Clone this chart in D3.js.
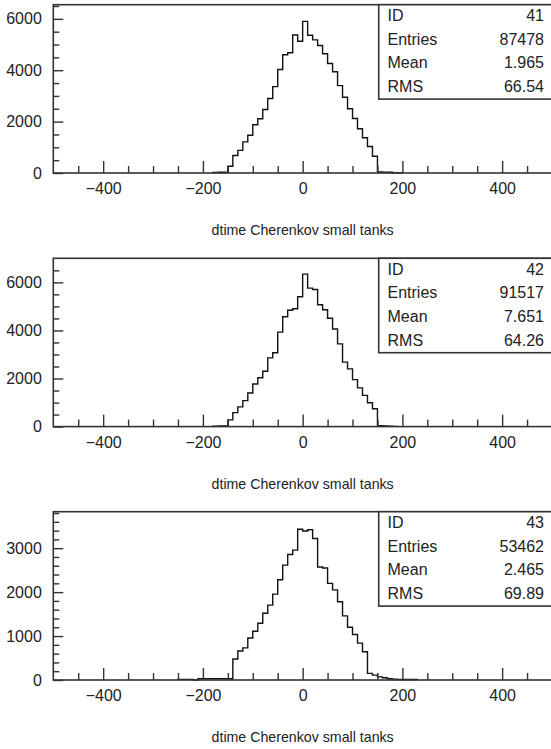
<!DOCTYPE html>
<html>
<head>
<meta charset="utf-8">
<script src="https://d3js.org/d3.v7.min.js"></script>
<style>
  body { margin: 0; background: #fff; }
  svg { display: block; font-family: "Liberation Sans", Arial, sans-serif; }
</style>
</head>
<body>
<svg id="drawing"></svg>
<script>
// values (bin width 10)
const binWidth = 10;
const xTitle = "dtime Cherenkov small tanks";
const statLabels = ["ID", "Entries", "Mean", "RMS"];

const ids = ["41", "42", "43"];
const entries = ["87478", "91517", "53462"];
const means = ["1.965", "7.651", "2.465"];
const rmsValues = ["66.54", "64.26", "69.89"];

const firstBin41 = -180;
const counts41 = [25, 30, 35, 265, 680, 880, 1210, 1470, 1880, 2110, 2470, 2900, 3360, 4030,
  4600, 4680, 5370, 5130, 5900, 5360, 5180, 4960, 4640, 4264, 3939, 3400, 2950, 2500, 2120,
  1720, 1370, 1030, 650, 40, 35, 30, 10, 10];

const firstBin42 = -180;
const counts42 = [20, 25, 30, 280, 580, 820, 1080, 1400, 1770, 2030, 2300, 2860, 3070, 3930,
  4570, 4840, 4900, 5400, 6340, 5760, 5700, 5070, 4860, 4509, 4060, 3440, 2680, 2400, 1955,
  1610, 1300, 990, 740, 40, 30, 20, 10];

const firstBin43 = -250;
const counts43 = [15, 15, 15, 0, 30, 30, 30, 30, 30, 30, 30, 477, 660, 730, 955, 1110, 1290,
  1520, 1705, 1955, 2280, 2614, 2856, 2955, 3430, 3390, 3420, 3220, 2570, 2550, 2200, 2050,
  1780, 1460, 1200, 1035, 840, 644, 150, 110, 70, 50, 30, 20, 10, 10, 10, 10];

const yMaxes = [6550, 7000, 3830];
const yLabelSteps = [2000, 2000, 1000];
const yMinorSteps = [500, 500, 200];
const xLabelTicks = [-400, -200, 0, 200, 400];

class Histo {

    constructor(config, counts, firstBin) {
        this.config = {
            parent: config.parent,
            top: config.top,
            height: config.height || 168.3,
            left: 53.3,
            right: 552,
            ymax: config.ymax,
            ystep: config.ystep,
            yminor: config.yminor,
            stats: config.stats
        };
        this.data = counts.map((c, i) => ({ lo: firstBin + i * binWidth, count: c }));
        this.init();
    }

    init() {
        let self = this;
        let c = self.config;

        self.chart = c.parent.append('g')
            .attr('transform', `translate(0, ${c.top})`);

        self.xscale = d3.scaleLinear()
            .domain([-500, 500])
            .range([c.left, c.right]);

        self.yscale = d3.scaleLinear()
            .domain([0, c.ymax])
            .range([c.height, 0]);
    }

    render() {
        let self = this;
        let c = self.config;

        // histogram outline
        let pts = [[self.data[0].lo, 0]];
        self.data.forEach(d => {
            pts.push([d.lo, d.count]);
            pts.push([d.lo + binWidth, d.count]);
        });
        pts.push([self.data[self.data.length - 1].lo + binWidth, 0]);

        let line = d3.line()
            .x(p => self.xscale(p[0]))
            .y(p => self.yscale(p[1]));

        self.chart.append('path')
            .attr('d', line(pts))
            .attr('fill', 'none')
            .attr('stroke', '#111')
            .attr('stroke-width', 1.4);

        // x axis: minor ticks every 50, labelled every 200
        let xminor = d3.range(-450, 500, 50).filter(v => v % 200 != 0);
        let xg = self.chart.append('g')
            .attr('transform', `translate(0, ${c.height})`);
        xg.append('g')
            .call(d3.axisBottom(self.xscale).tickValues(xminor).tickSizeInner(-7).tickSizeOuter(0).tickFormat(''))
            .call(g => g.select('.domain').remove());
        xg.append('g')
            .call(d3.axisBottom(self.xscale).tickValues(xLabelTicks).tickSizeInner(-12).tickSizeOuter(0).tickPadding(10))
            .call(g => g.select('.domain').remove());

        // y axis
        let ymajor = d3.range(0, c.ymax, c.ystep);
        let yminor = d3.range(0, c.ymax, c.yminor).filter(v => v % c.ystep != 0);
        let yg = self.chart.append('g')
            .attr('transform', `translate(${c.left}, 0)`);
        yg.append('g')
            .call(d3.axisLeft(self.yscale).tickValues(yminor).tickSizeInner(-6).tickSizeOuter(0).tickFormat(''))
            .call(g => g.select('.domain').remove());
        yg.append('g')
            .call(d3.axisLeft(self.yscale).tickValues(ymajor).tickSizeInner(-10).tickSizeOuter(0).tickPadding(11.5).tickFormat(d3.format('d')))
            .call(g => g.select('.domain').remove());

        self.chart.selectAll('.tick line')
            .attr('stroke', '#333')
            .attr('stroke-width', 1.4);
        self.chart.selectAll('.tick text')
            .attr('fill', '#222')
            .attr('font-family', '"Liberation Sans", Arial, sans-serif')
            .attr('font-size', 16);

        // frame
        self.chart.append('rect')
            .attr('x', c.left)
            .attr('y', 0)
            .attr('width', c.right - c.left)
            .attr('height', c.height)
            .attr('fill', 'none')
            .attr('stroke', '#333')
            .attr('stroke-width', 1.6);

        // stats box
        const boxLeft = 378.7, rowH = 23.6;
        self.chart.append('rect')
            .attr('x', boxLeft)
            .attr('y', 0)
            .attr('width', c.right - boxLeft)
            .attr('height', rowH * 4)
            .attr('fill', '#fff')
            .attr('stroke', '#333')
            .attr('stroke-width', 1.6);

        let rows = self.chart.selectAll('g.stat')
            .data(statLabels.map((l, i) => ({ label: l, value: c.stats[i] })))
            .join('g')
            .attr('class', 'stat')
            .attr('transform', (d, i) => `translate(0, ${16.5 + i * rowH})`);
        rows.append('text')
            .attr('x', 387.5)
            .attr('fill', '#222')
            .attr('font-size', 16)
            .text(d => d.label);
        rows.append('text')
            .attr('x', 544)
            .attr('text-anchor', 'end')
            .attr('fill', '#222')
            .attr('font-size', 16)
            .text(d => d.value);

        // x title
        self.chart.append('text')
            .attr('x', self.xscale(0))
            .attr('y', c.height + 62)
            .attr('text-anchor', 'middle')
            .attr('fill', '#222')
            .attr('font-size', 14.2)
            .text(xTitle);
    }
}

const svg = d3.select('#drawing')
    .attr('width', 551)
    .attr('height', 749);

const tops = [4.7, 258.3, 511.7];
const allCounts = [counts41, counts42, counts43];
const firstBins = [firstBin41, firstBin42, firstBin43];

allCounts.forEach((counts, i) => {
    let h = new Histo({
        parent: svg,
        top: tops[i],
        ymax: yMaxes[i],
        ystep: yLabelSteps[i],
        yminor: yMinorSteps[i],
        stats: [ids[i], entries[i], means[i], rmsValues[i]]
    }, counts, firstBins[i]);
    h.render();
});
</script>
</body>
</html>
